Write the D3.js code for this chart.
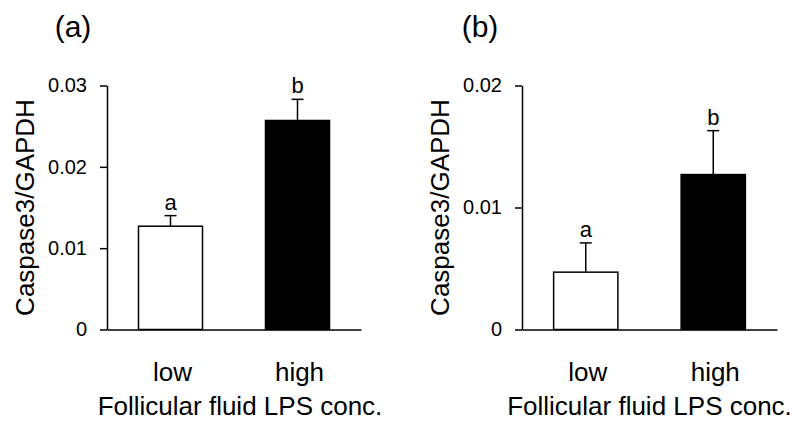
<!DOCTYPE html>
<html>
<head>
<meta charset="utf-8">
<script src="https://cdn.jsdelivr.net/npm/d3@7"></script>
<style>
  html, body { margin: 0; padding: 0; background: #fff; }
  svg { display: block; font-family: "Liberation Sans", Arial, sans-serif; }
</style>
</head>
<body>
<svg id="chart" width="798" height="421"></svg>
<script>
// Caspase3 expression relative to GAPDH by follicular fluid LPS concentration
const categories = ["low", "high"];
const panelTitles = ["(a)", "(b)"];
const meansA = [0.0127, 0.0257];
const errorsA = [0.0013, 0.0026];
const lettersA = ["a", "b"];
const meansB = [0.0047, 0.0127];
const errorsB = [0.0024, 0.0036];
const lettersB = ["a", "b"];
const tickValuesA = [0, 0.01, 0.02, 0.03];
const tickLabelsA = ["0", "0.01", "0.02", "0.03"];
const tickValuesB = [0, 0.01, 0.02];
const tickLabelsB = ["0", "0.01", "0.02"];
const yMaxA = 0.03;
const yMaxB = 0.02;
const yLabel = "Caspase3/GAPDH";
const xLabel = "Follicular fluid LPS conc.";
const barFills = ["#ffffff", "#000000"];

const svg = d3.select("#chart");

const panels = [
  { left: 107, right: 361, title: panelTitles[0], titleX: 73, means: meansA, errors: errorsA,
    letters: lettersA, ticks: tickValuesA, tickLabels: tickLabelsA, yMax: yMaxA, xLabelShift: 6 },
  { left: 522, right: 777, title: panelTitles[1], titleX: 480, means: meansB, errors: errorsB,
    letters: lettersB, ticks: tickValuesB, tickLabels: tickLabelsB, yMax: yMaxB, xLabelShift: 0 }
];

const plotTop = 85.5, plotBottom = 329.5;

panels.forEach(p => {
  const g = svg.append("g");

  const x = d3.scaleBand()
    .domain(categories)
    .range([p.left, p.right])
    .paddingInner(0.496)
    .paddingOuter(0.248);

  const y = d3.scaleLinear()
    .domain([0, p.yMax])
    .range([plotBottom, plotTop]);

  // panel tag
  g.append("text")
    .attr("x", p.titleX)
    .attr("y", 37)
    .attr("text-anchor", "middle")
    .style("font-size", "30px")
    .text(p.title);

  // bars
  g.selectAll("rect.bar")
    .data(p.means)
    .join("rect")
    .attr("class", "bar")
    .attr("x", (d, i) => x(categories[i]))
    .attr("y", d => y(d))
    .attr("width", x.bandwidth())
    .attr("height", d => y(0) - y(d))
    .attr("fill", (d, i) => barFills[i])
    .attr("stroke", "#000")
    .attr("stroke-width", 1.5);

  // upper error bars with significance letters
  const capHalf = 6;
  p.means.forEach((m, i) => {
    const cx = x(categories[i]) + x.bandwidth() / 2;
    const yTop = y(m + p.errors[i]);
    g.append("line")
      .attr("x1", cx).attr("x2", cx)
      .attr("y1", y(m)).attr("y2", yTop)
      .attr("stroke", "#000").attr("stroke-width", 1.5);
    g.append("line")
      .attr("x1", cx - capHalf).attr("x2", cx + capHalf)
      .attr("y1", yTop).attr("y2", yTop)
      .attr("stroke", "#000").attr("stroke-width", 1.5);
    g.append("text")
      .attr("x", cx)
      .attr("y", yTop - 6)
      .attr("text-anchor", "middle")
      .style("font-size", "22px")
      .text(p.letters[i]);
  });

  // y axis
  const yAxis = d3.axisLeft(y)
    .tickValues(p.ticks)
    .tickFormat((d, i) => p.tickLabels[i])
    .tickSize(7)
    .tickSizeOuter(0)
    .tickPadding(13);
  const ya = g.append("g")
    .attr("transform", `translate(${p.left},0)`)
    .call(yAxis);
  ya.selectAll("path, line").attr("stroke", "#000").attr("stroke-width", 1.5);
  ya.selectAll("text").style("font-size", "20px").attr("fill", "#000")
    .style("font-family", "'Liberation Sans', Arial, sans-serif");

  // x axis
  const xAxis = d3.axisBottom(x)
    .tickSize(0)
    .tickSizeOuter(0)
    .tickPadding(33);
  const xa = g.append("g")
    .attr("transform", `translate(0,${plotBottom})`)
    .call(xAxis);
  xa.select("path.domain").attr("stroke", "#000").attr("stroke-width", 1.5);
  xa.selectAll("text").style("font-size", "26px").attr("fill", "#000")
    .attr("dx", 2)
    .style("font-family", "'Liberation Sans', Arial, sans-serif");

  // axis titles
  g.append("text")
    .attr("transform", `translate(${p.left - 73},${(plotTop + plotBottom) / 2}) rotate(-90)`)
    .attr("text-anchor", "middle")
    .style("font-size", "26px")
    .text(yLabel);

  g.append("text")
    .attr("x", (p.left + p.right) / 2 + p.xLabelShift)
    .attr("y", 415)
    .attr("text-anchor", "middle")
    .style("font-size", "26px")
    .text(xLabel);
});
</script>
</body>
</html>
